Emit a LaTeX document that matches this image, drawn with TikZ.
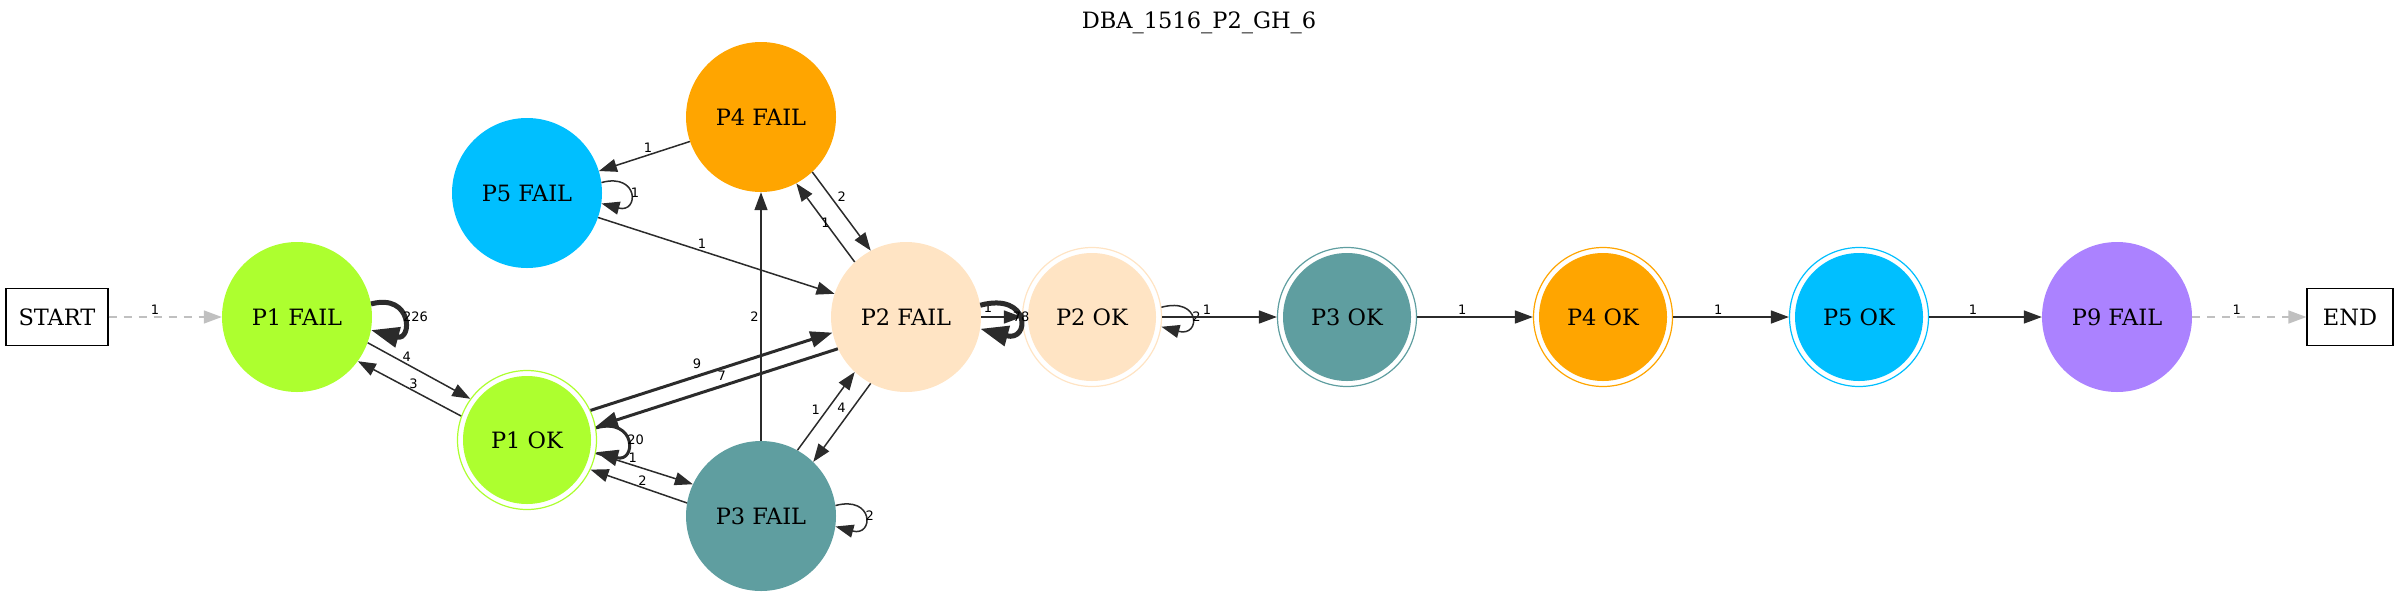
\documentclass[tikz,border=0pt]{standalone}
\usepackage{fontspec}
\setmainfont{DejaVu Serif}
\newfontfamily\lblfont{DejaVu Sans}
\usetikzlibrary{arrows.meta}
\definecolor{p1col}{HTML}{ADFF2F}
\definecolor{p2col}{HTML}{FFE4C4}
\definecolor{p3col}{HTML}{5F9EA0}
\definecolor{p4col}{HTML}{FFA500}
\definecolor{p5col}{HTML}{00BFFF}
\definecolor{p9col}{HTML}{AB82FF}
\definecolor{edgecol}{HTML}{2B2B2B}
\definecolor{dashcol}{HTML}{C0C0C0}

\begin{document}
\begin{tikzpicture}[x=1pt, y=-1pt,
	fail/.style={circle, fill=#1, minimum size=150pt, inner sep=0pt, font=\fontsize{22.5}{27}\selectfont},
	okst/.style={circle, draw=#1, fill=white, line width=1.2pt, minimum size=139pt, inner sep=0pt, font=\fontsize{22.5}{27}\selectfont,
		path picture={\fill[#1] (path picture bounding box.center) circle (64pt);}},
	termbox/.style={draw, line width=1.2pt, minimum height=57pt, inner sep=0pt, font=\fontsize{22.5}{27}\selectfont},
	e/.style={draw=edgecol, line width=1.5pt, -{Triangle[length=18pt,width=13pt]}},
	ethick/.style={draw=edgecol, line width=3pt, -{Triangle[length=22pt,width=16pt]}},
	ebig/.style={draw=edgecol, line width=5pt, -{Triangle[length=28pt,width=20pt]}},
	gedge/.style={draw=dashcol, line width=1.5pt, dash pattern=on 8pt off 7pt, -{Triangle[length=18pt,width=13pt]}},
	lbl/.style={font=\lblfont\fontsize{13}{15}\selectfont, inner sep=1.5pt}]
\useasboundingbox (0,0) rectangle (2400,598);

\node[font=\fontsize{22.5}{27}\selectfont] (title) at (1199,23) {DBA\_1516\_P2\_GH\_6};

\node[termbox, minimum width=102pt] (startbox) at (57,317) {START};
\node[termbox, minimum width=86pt] (endbox) at (2350,317) {END};

\node[fail=p1col] (p1f) at (297,317) {P1 FAIL};
\node[okst=p1col] (p1ok) at (527,440) {P1 OK};
\node[fail=p5col] (p5f) at (527,193) {P5 FAIL};
\node[fail=p4col] (p4f) at (761,117) {P4 FAIL};
\node[fail=p2col] (p2f) at (906,317) {P2 FAIL};
\node[fail=p3col] (p3f) at (761,516) {P3 FAIL};
\node[fail=p9col] (p9f) at (2117,317) {P9 FAIL};
\foreach \n/\x/\c/\t in {p2ok/1092/p2col/P2 OK, p3ok/1347/p3col/P3 OK, p4ok/1603/p4col/P4 OK, p5ok/1859/p5col/P5 OK}{
	\node[okst=\c] (\n) at (\x,317) {\t};
	}

% start and end
\draw[gedge] (startbox) -- node[lbl,pos=.41,above]{1} (p1f);
\draw[gedge] (p9f) -- node[lbl,pos=.39,above]{1} (endbox);

% P1
\draw[ebig] (p1f.10) .. controls +(15:43pt) and +(-15:43pt) .. (p1f.-10) node[lbl,pos=.5,right=-3pt]{226};
\draw[e] (p1f.-20) -- node[lbl,pos=.38,above]{4} (p1ok.144);
\draw[e] (p1ok.160) -- node[lbl,pos=.46,above]{3} (p1f.-36);
\draw[ethick] (p1ok.10) .. controls +(15:42pt) and +(-15:42pt) .. (p1ok.-10) node[lbl,pos=.5,right=-2pt]{20};
\draw[ethick] (p1ok.25) -- node[lbl,pos=.44,above=4pt]{9} (p2f.-168);
\draw[ethick] (p2f.-155) -- node[lbl,pos=.48,above=3pt]{7} (p1ok.11);
\draw[e] (p1ok.-11) -- node[lbl,pos=.38,above]{1} (p3f.155);
\draw[e] (p3f.170) -- node[lbl,pos=.46,above]{2} (p1ok.-25);

% P3
\draw[e] (p3f) -- node[lbl,pos=.5,left]{2} (p4f);
\draw[e] (p3f.61) -- node[lbl,pos=.52,left=5pt]{1} (p2f.-133);
\draw[e] (p2f.-118) -- node[lbl,pos=.31,left=5pt]{4} (p3f.46);
\draw[e] (p3f.8) .. controls +(15:40pt) and +(-15:40pt) .. (p3f.-8) node[lbl,pos=.5,right=-1pt]{2};

% P4, P5
\draw[e] (p4f.-161) -- node[lbl,pos=.46,above]{1} (p5f.17);
\draw[e] (p4f.-47) -- node[lbl,pos=.31,right=5pt]{2} (p2f.118);
\draw[e] (p2f.133) -- node[lbl,pos=.5]{1} (p4f.-62);
\draw[e] (p5f.8) .. controls +(15:39pt) and +(-15:39pt) .. (p5f.-8) node[lbl,pos=.5,right=-1pt]{1};
\draw[e] (p5f.-19) -- node[lbl,pos=.44,above]{1} (p2f.162);

% P2
\draw[e] (p2f) -- node[lbl,pos=.17,above=2pt]{1} (p2ok);
\draw[ebig] (p2f.9) .. controls +(15:52pt) and +(-15:52pt) .. (p2f.-9) node[lbl,pos=.5,right=-9pt]{78};
\draw[e] (p2ok.8) .. controls +(15:41pt) and +(-15:41pt) .. (p2ok.-8) node[lbl,pos=.5,right=-1pt]{2};

% OK chain
\foreach \a/\b in {p2ok/p3ok, p3ok/p4ok, p4ok/p5ok, p5ok/p9f}{
	\draw[e] (\a) -- node[lbl,pos=.39,above]{1} (\b);
	}
\end{tikzpicture}
\end{document}
